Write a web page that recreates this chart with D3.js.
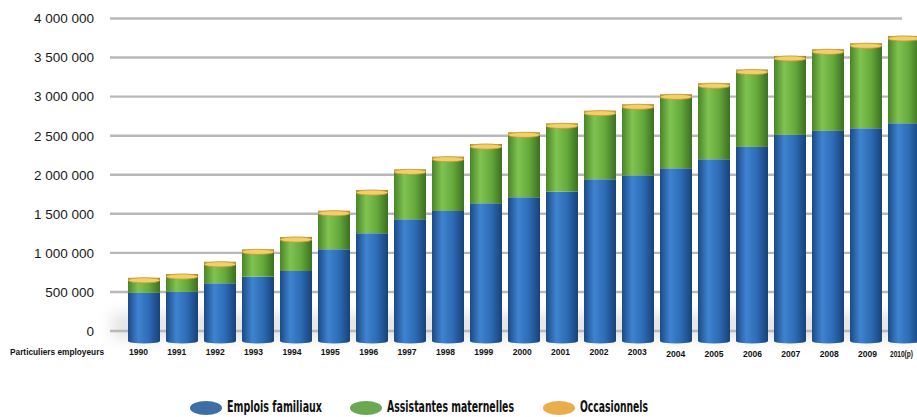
<!DOCTYPE html>
<html>
<head>
<meta charset="utf-8">
<script src="https://cdn.jsdelivr.net/npm/d3@7"></script>
<style>
  body { margin: 0; background: #fff; }
  svg { display: block; }
  .tick-label { font-family: "Liberation Sans", Arial, sans-serif; font-size: 13.5px; fill: #1a1a1a; }
  .year-label { font-family: "Liberation Sans Narrow", "Liberation Sans", Arial, sans-serif; font-size: 9.5px; font-weight: bold; fill: #111; }
  .legend-label { font-family: "Liberation Sans Narrow", "DejaVu Sans Condensed", sans-serif; font-size: 15px; font-weight: bold; fill: #111; }
</style>
</head>
<body>
<svg width="917" height="417"></svg>
<script>
const width = 917;
const height = 417;

// data
const years = ['1990', '1991', '1992', '1993', '1994', '1995', '1996', '1997', '1998', '1999',
  '2000', '2001', '2002', '2003', '2004', '2005', '2006', '2007', '2008', '2009', '2010(p)'];
const emploisFamiliaux = [490000, 503000, 611000, 696000, 768000, 1046000, 1251000, 1430000, 1536000, 1635000,
  1712000, 1784000, 1942000, 1991000, 2083000, 2198000, 2356000, 2510000, 2561000, 2595000, 2659000];
const assistantesMaternelles = [177000, 212000, 261000, 335000, 421000, 479000, 539000, 625000, 681000, 744000,
  817000, 860000, 864000, 897000, 933000, 959000, 977000, 996000, 1031000, 1074000, 1103000];
const occasionnels = [15000, 15000, 15000, 15000, 15000, 15000, 15000, 15000, 15000, 15000,
  15000, 15000, 15000, 15000, 15000, 15000, 15000, 15000, 15000, 15000, 15000];
const seriesNames = ['Emplois familiaux', 'Assistantes maternelles', 'Occasionnels'];
const yTicks = [0, 500000, 1000000, 1500000, 2000000, 2500000, 3000000, 3500000, 4000000];
const categoryLabel = 'Particuliers employeurs';

const svg = d3.select('svg');

const render = () => {
    const keys = ['emplois', 'assistantes', 'occasionnels'];
    const data = years.map((y, i) => ({
        year: y,
        emplois: emploisFamiliaux[i],
        assistantes: assistantesMaternelles[i],
        occasionnels: occasionnels[i]
    }));

    const colors = {
        emplois: ['#1b4a86', '#3f83d0', '#2e6cb6', '#17427a'],
        assistantes: ['#4a8526', '#80c352', '#66aa3c', '#3b7020'],
        occasionnels: ['#c08a22', '#f7d876', '#eab84c', '#b07c1c']
    };
    const legendColors = { emplois: '#3d6fa6', assistantes: '#6ba853', occasionnels: '#e9ae4c' };

    const xScale = d3.scaleBand()
        .domain(years)
        .range([125, 125 + years.length * 38])
        .paddingInner(6 / 38)
        .paddingOuter(3 / 38);

    const labelScale = d3.scalePoint()
        .domain(years)
        .range([138.5, 138.5 + (years.length - 1) * 38.37]);

    const yScale = d3.scaleLinear()
        .domain([0, 4000000])
        .range([331, 18.5]);

    const defs = svg.append('defs');
    keys.forEach(k => {
        const grad = defs.append('linearGradient')
            .attr('id', 'grad-' + k)
            .attr('x1', '0%').attr('x2', '100%').attr('y1', '0%').attr('y2', '0%');
        [0, 0.32, 0.65, 1].forEach((o, j) => {
            grad.append('stop').attr('offset', o).attr('stop-color', colors[k][j]);
        });
    });
    defs.append('filter').attr('id', 'shadow')
        .attr('x', '-20%').attr('y', '-100%').attr('width', '140%').attr('height', '300%')
        .append('feGaussianBlur').attr('stdDeviation', 7);

    // floor shadow behind the bars
    svg.append('rect')
        .attr('x', 112)
        .attr('y', yScale(0) - 18)
        .attr('width', width - 112)
        .attr('height', 26)
        .attr('fill', '#a8a8a8')
        .attr('opacity', 0.3)
        .attr('filter', 'url(#shadow)');

    // gridlines
    svg.append('g')
        .selectAll('line')
        .data(yTicks)
        .enter()
        .append('line')
        .attr('x1', 110)
        .attr('x2', 902)
        .attr('y1', d => yScale(d))
        .attr('y2', d => yScale(d))
        .attr('stroke', '#b8b8b8')
        .attr('stroke-width', 2.4);

    // y tick labels
    const fmt = d3.formatLocale({ decimal: ',', thousands: ' ', grouping: [3], currency: ['', ' €'] }).format(',d');
    svg.append('g')
        .selectAll('text')
        .data(yTicks)
        .enter()
        .append('text')
        .attr('class', 'tick-label')
        .attr('x', 94)
        .attr('y', d => yScale(d))
        .attr('dy', '0.36em')
        .attr('text-anchor', 'end')
        .text(d => fmt(d));

    // stacked cylinders
    const stacked = d3.stack().keys(keys)(data);
    const bw = xScale.bandwidth();
    const ry = 2.6;
    const bars = svg.append('g');

    stacked.forEach(layer => {
        const k = layer.key;
        const g = bars.append('g');
        g.selectAll('rect')
            .data(layer)
            .enter()
            .append('rect')
            .attr('x', d => xScale(d.data.year))
            .attr('y', d => yScale(d[1]))
            .attr('width', bw)
            .attr('height', d => (k === 'emplois' ? yScale(d[0]) + 10 : yScale(d[0])) - yScale(d[1]))
            .attr('fill', 'url(#grad-' + k + ')');
        if (k === 'emplois') {
            g.selectAll('ellipse')
                .data(layer)
                .enter()
                .append('ellipse')
                .attr('cx', d => xScale(d.data.year) + bw / 2)
                .attr('cy', d => yScale(d[0]) + 10)
                .attr('rx', bw / 2)
                .attr('ry', ry)
                .attr('fill', 'url(#grad-emplois)');
        }
    });

    // top caps (occasionnels)
    const top = stacked[stacked.length - 1];
    bars.append('g')
        .selectAll('ellipse')
        .data(top)
        .enter()
        .append('ellipse')
        .attr('cx', d => xScale(d.data.year) + bw / 2)
        .attr('cy', d => yScale(d[1]) + ry)
        .attr('rx', bw / 2)
        .attr('ry', ry)
        .attr('fill', '#f1cf6c')
        .attr('stroke', '#c8952c')
        .attr('stroke-width', 0.8);

    // x labels
    const last = years.length - 1;
    svg.append('g')
        .selectAll('text')
        .data(years)
        .enter()
        .append('text')
        .attr('class', 'year-label')
        .attr('x', (d, i) => i === last ? 890 : labelScale(d))
        .attr('y', (d, i) => i >= 14 ? 357 : 355)
        .attr('text-anchor', (d, i) => i === last ? 'start' : 'middle')
        .attr('textLength', (d, i) => i === last ? 23 : 19)
        .attr('lengthAdjust', 'spacingAndGlyphs')
        .text(d => d);

    svg.append('text')
        .attr('class', 'year-label')
        .attr('x', 10)
        .attr('y', 355)
        .attr('textLength', 94)
        .attr('lengthAdjust', 'spacingAndGlyphs')
        .text(categoryLabel);

    // legend
    const legendX = [206, 366, 559];
    const legendW = [95, 127, 68];
    const legend = svg.append('g');
    keys.forEach((k, i) => {
        legend.append('ellipse')
            .attr('cx', legendX[i])
            .attr('cy', 408)
            .attr('rx', 16)
            .attr('ry', 7)
            .attr('fill', legendColors[k]);
        legend.append('text')
            .attr('class', 'legend-label')
            .attr('x', legendX[i] + 21)
            .attr('y', 412)
            .attr('textLength', legendW[i])
            .attr('lengthAdjust', 'spacingAndGlyphs')
            .text(seriesNames[i]);
    });
};

render();
</script>
</body>
</html>
